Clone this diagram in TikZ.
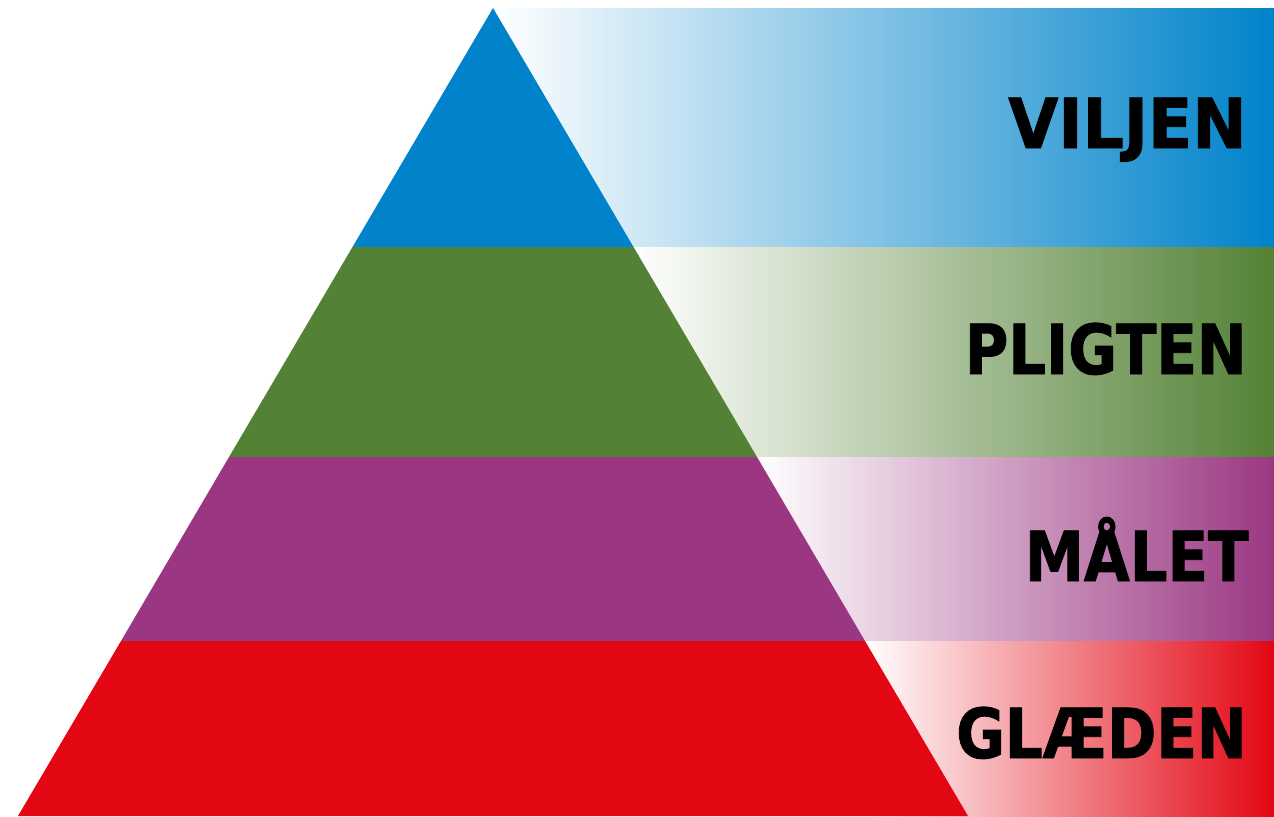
\documentclass[tikz,border=0pt]{standalone}
\usepackage{fontspec}
\setmainfont{DejaVu Sans}
\newfontfamily\labelfontwide[FakeStretch=0.94,FakeBold=1.2]{DejaVu Sans Bold}
\newfontfamily\labelfont[FakeStretch=0.86,FakeBold=1.2]{DejaVu Sans Bold}
\definecolor{cblue}{HTML}{0083CA}
\definecolor{cgreen}{HTML}{538135}
\definecolor{cpurple}{HTML}{9B3782}
\definecolor{cred}{HTML}{E30613}
\tikzset{
  lbl/.style={anchor=base east, inner sep=0pt, font=\labelfont\fontsize{34.5}{40}\selectfont, text=black},
  lblwide/.style={lbl, font=\labelfontwide\fontsize{34.5}{40}\selectfont},
}
\begin{document}
\begin{tikzpicture}[x=0.5pt,y=-0.5pt]
\useasboundingbox (0,0) rectangle (1274,816);
% gradient bands
\shade[left color=white, right color=cblue] (493,8) rectangle (1274,247);
\shade[left color=white, right color=cgreen] (633.5,247) rectangle (1274,457);
\shade[left color=white, right color=cpurple] (757,457) rectangle (1274,641);
\shade[left color=white, right color=cred] (865,641) rectangle (1274,816);
% pyramid
\fill[cblue] (493,8) -- (633.5,247) -- (352.5,247) -- cycle;
\fill[cgreen] (352.5,247) -- (633.5,247) -- (757,457) -- (229,457) -- cycle;
\fill[cpurple] (229,457) -- (757,457) -- (865,641) -- (121,641) -- cycle;
\fill[cred] (121,641) -- (865,641) -- (968,816) -- (18,816) -- cycle;
% labels
\node[lblwide] (viljen) at (1247,148) {VILJEN};
\node[lbl] (pligten) at (1247,374) {PLIGTEN};
\node[lbl] (malet) at (1249,581) {MÅLET};
\node[lbl] (glaeden) at (1247,758) {GLÆDEN};
\end{tikzpicture}
\end{document}
